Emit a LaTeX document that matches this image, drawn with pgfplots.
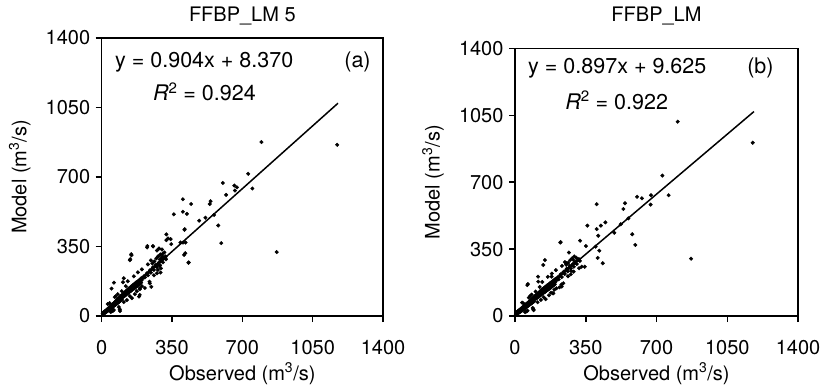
\documentclass[border=0pt]{standalone}
\usepackage{pgfplots}
\pgfplotsset{compat=1.18}
\usepackage{fontspec}
\setmainfont{TeX Gyre Heros}
\newcommand\f{\fontsize{20bp}{24bp}\selectfont}
\newcommand\fe{\fontsize{21.5bp}{25bp}\selectfont}
\pgfplotsset{
 panel/.style={
  scale only axis, width=281.3bp,
  xmin=0,xmax=1400,ymin=0,ymax=1400,
  xtick={0,350,700,1050,1400}, ytick={0,350,700,1050,1400},
  tick align=outside, major tick length=6bp, tick pos=left,
  axis line style={line width=1.5bp},
  major tick style={line width=1.5bp, black},
  tick label style={font=\f},
  xticklabel style={yshift=-15bp},
  yticklabel style={xshift=-2bp},
  /pgf/number format/assume math mode=true,
  /pgf/number format/1000 sep={},
  xlabel={Observed (m\textsuperscript{3}/s)},
  ylabel={Model (m\textsuperscript{3}/s)},
  xlabel style={at={(0.5,0)}, anchor=base, yshift=-64bp, inner sep=0pt, font=\f},
  ylabel style={at={(0,0.5)}, anchor=center, yshift=82bp, inner sep=0pt, font=\f},
  title style={at={(0.5,1)}, anchor=base, inner sep=0pt, font=\f},
 },
 dots/.style={only marks, mark=*, mark size=1.8bp, black},
}
\begin{document}
\begin{tikzpicture}
\path[use as bounding box] (-101.7bp,-76bp) rectangle (720.3bp,316bp);
\begin{axis}[panel, height=278bp, at={(0,0)}, anchor=south west,
  title={FFBP\_LM 5}, title style={yshift=10.5bp}]
\addplot[dots] coordinates {
(5,12)(8,15)(10,20)(12,14)(14,22)(15,18)(17,25)(18,16)(20,26)(22,20)(24,30)(25,22)(27,33)(28,25)(30,30)(32,38)(33,28)(35,35)(36,42)(38,32)(40,40)(41,47)(42,36)(44,45)(45,38)(47,50)(48,42)(50,48)(51,55)(52,44)(54,52)(55,60)(56,47)(58,56)(59,64)(60,50)(62,58)(63,68)(64,54)(66,62)(67,72)(68,56)(70,66)(71,75)(72,60)(74,70)(75,80)(76,62)(78,74)(79,84)(80,66)(82,78)(83,88)(84,70)(86,82)(87,92)(88,72)(90,85)(91,95)(92,76)(94,88)(95,100)(96,80)(98,92)(99,104)(100,84)
(30,60)(45,20)(60,30)(70,100)(85,45)(55,25)(90,34)(40,65)(65,95)(80,110)(100,125)
(102,98)(104,108)(106,94)(108,104)(110,114)(112,100)(114,110)(116,120)(118,104)(120,116)(122,126)(124,110)(126,120)(128,132)(130,114)(132,126)(134,138)(136,120)(138,130)(140,142)(142,124)(144,136)(146,148)(148,128)(150,140)(152,152)(154,134)(156,146)(158,158)(160,138)(162,150)(164,162)(166,142)(168,156)(170,168)(172,148)(174,160)(176,172)(178,152)(180,164)(182,176)(184,158)(186,170)(188,182)(190,162)(192,176)(194,188)(196,168)(198,180)(200,192)
(110,70)(125,80)(140,100)(150,90)(165,110)(175,125)(190,140)(200,150)(215,141)(189,106)(238,173)(106,170)(120,150)(130,175)(160,200)(180,220)(200,235)
(205,190)(210,200)(215,194)(220,208)(225,215)(230,205)(235,222)(240,230)(245,218)(250,236)(255,245)(260,232)(265,250)(270,258)(275,246)(280,262)(285,270)(290,256)(295,275)(300,282)(305,270)(310,290)(315,295)(320,285)(262,275)(272,290)(282,300)(292,310)(302,300)(252,265)(245,280)(230,260)(280,232)(295,240)(260,205)(275,215)
(275,330)(285,340)(300,335)(312,320)(318,300)(280,300)(290,285)
(795,876)(1172,862)(871,322)(729,716)(750,642)(673,648)(660,657)(663,632)(619,610)(603,670)(542,578)(538,564)(559,509)(516,495)(485,480)(580,456)(595,367)(445,564)(404,588)(404,525)(424,514)(359,512)(412,434)(405,370)(417,370)(410,308)(432,268)(322,411)(322,382)(343,387)(346,362)(392,370)(305,315)(318,291)(148,306)(140,281)(226,345)(256,350)(297,290)(289,253)(293,219)(239,165)(247,147)(190,135)(186,98)(61,168)(49,138)(110,190)(91,25)(330,391)(413,437)(416,316)(433,270)(147,311)(142,286)(227,352)(255,352)
};
\addplot[black, line width=1.5bp] coordinates {(0,8.37) (1176,1071.5)};
\node[anchor=west,inner sep=0pt,font=\fe] at (rel axis cs:0.047,0.914) {y = 0.904x + 8.370};
\node[anchor=west,inner sep=0pt,font=\fe] at (rel axis cs:0.182,0.806) {\textit{R}\textsuperscript{2} = 0.924};
\node[anchor=west,inner sep=0pt,font=\fe] at (rel axis cs:0.862,0.914) {(a)};
\end{axis}
\begin{axis}[panel, width=283bp, height=267.5bp, at={(413.3bp,0)}, anchor=south west,
  title={FFBP\_LM}, title style={yshift=21bp}]
\addplot[dots] coordinates {
(4,10)(7,18)(9,12)(11,22)(13,16)(15,26)(16,14)(18,24)(20,30)(21,19)(23,28)(25,34)(26,22)(28,32)(30,38)(31,26)(33,36)(35,44)(36,30)(38,40)(40,48)(41,34)(43,44)(45,52)(46,38)(48,48)(50,57)(51,42)(53,52)(55,62)(56,46)(58,56)(60,66)(61,50)(63,60)(65,70)(66,54)(68,64)(70,75)(71,58)(73,68)(75,80)(76,62)(78,73)(80,85)(81,66)(83,78)(85,90)(86,70)(88,82)(90,95)(91,74)(93,86)(95,100)(96,78)(98,90)(100,106)
(35,70)(50,20)(62,28)(75,105)(88,42)(57,24)(92,30)(42,66)(68,96)(82,112)(102,128)(91,35)(61,162)(64,167)(115,180)(114,206)
(103,96)(105,110)(107,92)(109,102)(111,116)(113,98)(115,108)(117,122)(119,102)(121,114)(123,128)(125,108)(127,118)(129,134)(131,112)(133,124)(135,140)(137,118)(139,128)(141,144)(143,122)(145,134)(147,150)(149,126)(151,138)(153,154)(155,132)(157,144)(159,160)(161,136)(163,148)(165,164)(167,140)(169,154)(171,170)(173,146)(175,158)(177,174)(179,150)(181,162)(183,178)(185,156)(187,168)(189,184)(191,160)(193,174)(195,190)(197,166)(199,178)(201,194)
(112,72)(128,84)(142,98)(152,88)(168,108)(178,122)(186,119)(195,138)(205,145)(224,384)(148,293)(140,267)(190,119)(181,206)(122,152)(135,178)(162,205)(182,222)(202,240)(220,150)(230,165)
(206,188)(211,202)(216,192)(221,210)(226,218)(231,204)(236,225)(241,232)(246,220)(251,238)(256,248)(261,234)(266,252)(271,262)(276,248)(281,265)(286,272)(291,258)(296,278)(301,285)(306,272)(311,292)(316,298)(321,288)(263,278)(273,292)(283,302)(293,312)(303,305)(253,268)(247,282)(232,262)(278,236)(290,232)(262,208)(276,218)
(805,1017)(1176,907)(871,300)(729,735)(760,632)(673,632)(671,583)(628,616)(604,624)(544,590)(536,560)(561,511)(523,480)(491,436)(580,428)(595,372)(404,585)(404,455)(425,473)(447,490)(412,420)(358,473)(399,363)(417,342)(409,304)(434,276)(322,394)(351,366)(345,258)(317,250)(226,387)(267,332)(255,276)(231,154)(239,171)(91,35)(289,293)(330,258)
};
\addplot[black, line width=1.5bp] coordinates {(0,9.625) (1182,1069.9)};
\node[anchor=west,inner sep=0pt,font=\fe] at (rel axis cs:0.046,0.927) {y = 0.897x + 9.625};
\node[anchor=west,inner sep=0pt,font=\fe] at (rel axis cs:0.177,0.807) {\textit{R}\textsuperscript{2} = 0.922};
\node[anchor=west,inner sep=0pt,font=\fe] at (rel axis cs:0.82,0.927) {(b)};
\end{axis}
\end{tikzpicture}
\end{document}
